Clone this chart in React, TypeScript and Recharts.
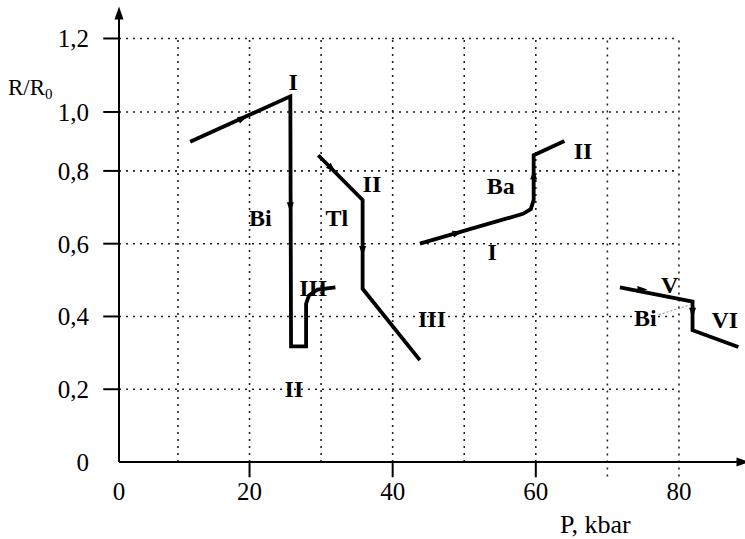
import {
  ComposedChart,
  Line,
  XAxis,
  YAxis,
  ReferenceLine,
  ReferenceDot,
} from "recharts";

const FONT = '"Liberation Serif", "Times New Roman", serif';

// axis ranges, in kbar and R/R0 (the axes run a little past the last gridline, up to the arrows)
const X_MIN = 1.76;
const X_MAX = 88.95;
const Y_MAX = 1.234;

const X_TICKS = [X_MIN, 20, 40, 60, 80];
const X_TICK_LABELS = ["0", "20", "40", "60", "80"];
// in the scanned figure the two upper gridlines are drawn lower than a linear scale would put them
const Y_TICKS = [0, 0.2, 0.4, 0.6, 0.8, 0.962, 1.164];
const Y_TICK_LABELS = ["0", "0,2", "0,4", "0,6", "0,8", "1,0", "1,2"];
const X_GRID = [10, 20, 30, 40, 50, 60, 70, 80];

// Bi, transitions I -> II -> III
const biLow = [
  { x: 11.7, y: 0.88 },
  { x: 25.7, y: 1.005 },
  { x: 25.8, y: 0.318 },
  { x: 27.9, y: 0.318 },
  { x: 27.9, y: 0.435 },
  { x: 28.3, y: 0.458 },
  { x: 29.5, y: 0.474 },
  { x: 32.0, y: 0.48 },
];

// Tl, II -> III
const thallium = [
  { x: 29.6, y: 0.843 },
  { x: 35.8, y: 0.72 },
  { x: 35.8, y: 0.476 },
  { x: 43.8, y: 0.28 },
];

// Ba, I -> II
const barium = [
  { x: 43.8, y: 0.6 },
  { x: 58.2, y: 0.682 },
  { x: 59.3, y: 0.695 },
  { x: 59.7, y: 0.72 },
  { x: 59.7, y: 0.843 },
  { x: 64.0, y: 0.882 },
];

// Bi, V -> VI
const biHigh = [
  { x: 71.75, y: 0.48 },
  { x: 81.9, y: 0.441 },
  { x: 81.9, y: 0.362 },
  { x: 88.3, y: 0.316 },
];

const curveLabels = [
  { text: "I", x: 26.1, y: 1.044 },
  { text: "Bi", x: 21.5, y: 0.67 },
  { text: "III", x: 28.9, y: 0.478 },
  { text: "II", x: 26.2, y: 0.2 },
  { text: "Tl", x: 32.2, y: 0.67 },
  { text: "II", x: 37.1, y: 0.764 },
  { text: "III", x: 45.5, y: 0.392 },
  { text: "Ba", x: 55.1, y: 0.758 },
  { text: "II", x: 66.6, y: 0.855 },
  { text: "I", x: 53.9, y: 0.577 },
  { text: "V", x: 78.7, y: 0.486 },
  { text: "Bi", x: 75.3, y: 0.395 },
  { text: "VI", x: 86.4, y: 0.39 },
];

// direction arrows on the curves, dir in degrees on screen (0 = right, 90 = down)
const arrowMarks = [
  { x: 19.1, y: 0.945, dir: -24 },
  { x: 25.7, y: 0.7, dir: 90 },
  { x: 31.5, y: 0.806, dir: 45 },
  { x: 35.8, y: 0.58, dir: 90 },
  { x: 49.1, y: 0.63, dir: -16 },
  { x: 59.7, y: 0.79, dir: -90 },
  { x: 74.9, y: 0.474, dir: 0 },
  { x: 81.9, y: 0.41, dir: 90 },
];

const GRID_STROKE = { stroke: "#222", strokeWidth: 1.6, strokeDasharray: "2 5" };

function arrowHead(dir: number, len: number, half: number) {
  return (p: any) => (
    <polygon
      points={`${len / 2},0 ${-len / 2},${-half} ${-len / 2},${half}`}
      transform={`translate(${p.cx},${p.cy}) rotate(${dir})`}
      fill="#000"
    />
  );
}

function labelText(text: string) {
  return (p: any) => (
    <text
      x={p.cx}
      y={p.cy}
      textAnchor="middle"
      dominantBaseline="central"
      fontFamily={FONT}
      fontWeight="bold"
      fontSize={24}
      fill="#000"
    >
      {text}
    </text>
  );
}

const series = [biLow, thallium, barium, biHigh];

export default function App() {
  return (
    <div
      style={{
        position: "absolute",
        left: 0,
        top: 0,
        width: 745,
        height: 539,
        background: "#fff",
        fontFamily: FONT,
        color: "#000",
      }}
    >
      <ComposedChart
        width={745}
        height={539}
        margin={{ top: 13, right: 2, left: 39, bottom: 0 }}
      >
        <XAxis
          type="number"
          dataKey="x"
          domain={[X_MIN, X_MAX]}
          allowDataOverflow
          ticks={X_TICKS}
          interval={0}
          tickFormatter={(v: number) => X_TICK_LABELS[X_TICKS.indexOf(v)] ?? ""}
          tickLine={false}
          tickSize={15}
          tickMargin={5}
          height={77}
          axisLine={{ stroke: "#000", strokeWidth: 2 }}
          tick={{ fill: "#000", fontSize: 25, fontFamily: FONT }}
        />
        <YAxis
          type="number"
          dataKey="y"
          domain={[0, Y_MAX]}
          allowDataOverflow
          ticks={Y_TICKS}
          interval={0}
          tickFormatter={(v: number) => Y_TICK_LABELS[Y_TICKS.indexOf(v)] ?? ""}
          tickLine={false}
          tickSize={16}
          tickMargin={14}
          width={80}
          axisLine={{ stroke: "#000", strokeWidth: 2 }}
          tick={{ fill: "#000", fontSize: 25, fontFamily: FONT }}
        />

        {X_GRID.map((x) => (
          <ReferenceLine
            key={`gx${x}`}
            segment={[
              { x, y: x >= 70 ? -0.04 : 0 },
              { x, y: Y_TICKS[Y_TICKS.length - 1] },
            ]}
            ifOverflow="visible"
            {...GRID_STROKE}
          />
        ))}
        {Y_TICKS.slice(1).map((y) => (
          <ReferenceLine
            key={`gy${y}`}
            segment={[
              { x: X_MIN, y },
              { x: 80, y },
            ]}
            ifOverflow="visible"
            {...GRID_STROKE}
          />
        ))}

        {/* tick marks */}
        {[20, 40, 60].map((x) => (
          <ReferenceLine
            key={`tx${x}`}
            segment={[
              { x, y: 0 },
              { x, y: -0.042 },
            ]}
            ifOverflow="visible"
            stroke="#000"
            strokeWidth={2}
          />
        ))}
        {Y_TICKS.slice(1).map((y) => (
          <ReferenceLine
            key={`ty${y}`}
            segment={[
              { x: X_MIN - 2.2, y },
              { x: X_MIN, y },
            ]}
            ifOverflow="visible"
            stroke="#000"
            strokeWidth={2}
          />
        ))}

        {series.map((d, i) => (
          <Line
            key={`s${i}`}
            data={d}
            dataKey="y"
            type="linear"
            stroke="#000"
            strokeWidth={3.8}
            strokeLinejoin="miter"
            dot={false}
            activeDot={false}
            isAnimationActive={false}
          />
        ))}

        {/* thin leader from the right "Bi" to its curve */}
        <ReferenceLine
          segment={[
            { x: 77.2, y: 0.405 },
            { x: 81.6, y: 0.432 },
          ]}
          stroke="#888"
          strokeWidth={1}
          strokeDasharray="2 2"
        />

        {arrowMarks.map((a, i) => (
          <ReferenceDot
            key={`a${i}`}
            x={a.x}
            y={a.y}
            r={3}
            shape={arrowHead(a.dir, 10, 3.5)}
          />
        ))}

        {curveLabels.map((l, i) => (
          <ReferenceDot
            key={`l${i}`}
            x={l.x}
            y={l.y}
            r={3}
            shape={labelText(l.text)}
          />
        ))}

        {/* axis arrows */}
        <ReferenceDot x={X_MIN} y={Y_MAX} r={3} shape={arrowHead(-90, 13, 4.5)} />
        <ReferenceDot x={X_MAX} y={0} r={3} shape={arrowHead(0, 13, 4.5)} />
      </ComposedChart>

      <div
        style={{
          position: "absolute",
          left: 8,
          top: 76,
          fontSize: 23,
          lineHeight: 1,
          whiteSpace: "nowrap",
        }}
      >
        R/R
        <span style={{ fontSize: 15, position: "relative", top: 4 }}>0</span>
      </div>
      <div
        style={{
          position: "absolute",
          left: 560,
          top: 514,
          fontSize: 26,
          lineHeight: 0.85,
          whiteSpace: "nowrap",
        }}
      >
        P, kbar
      </div>
    </div>
  );
}
